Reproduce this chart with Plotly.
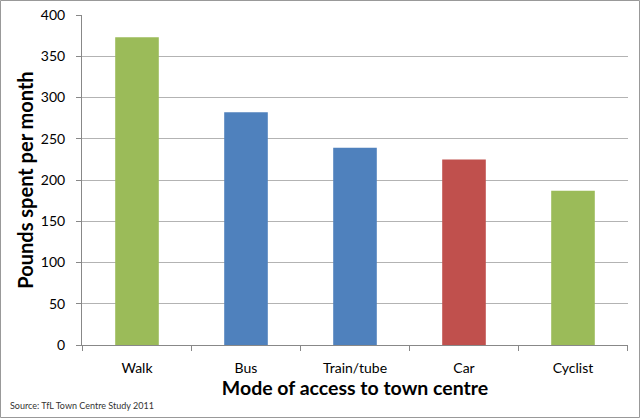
import plotly.graph_objects as go

categories = ["Walk", "Bus", "Train/tube", "Car", "Cyclist"]
values = [373, 282, 239, 225, 187]
bar_colors = ["#9BBB59", "#4F81BD", "#4F81BD", "#C0504D", "#9BBB59"]
y_ticks = [0, 50, 100, 150, 200, 250, 300, 350, 400]

FONT = "Lato, 'Open Sans', Arial, sans-serif"

fig = go.Figure(go.Bar(
    x=categories, y=values,
    marker=dict(color=bar_colors, line=dict(width=0)),
    width=0.4,
))

fig.update_layout(
    width=640, height=418,
    margin=dict(l=82, r=12, t=15, b=73, autoexpand=False),
    paper_bgcolor="white", plot_bgcolor="white",
    showlegend=False,
    font=dict(family=FONT, color="#000000", size=14),
    xaxis=dict(
        showline=True, linecolor="#888888", linewidth=1,
        ticks="", tickfont=dict(size=14), automargin=False,
        ticklabelstandoff=10,
        title=dict(text="<b>Mode of access to town centre</b>", font=dict(size=19.5), standoff=4),
        showgrid=False,
    ),
    yaxis=dict(
        range=[0, 400], tickvals=y_ticks,
        showline=True, linecolor="#888888", linewidth=1,
        ticks="outside", ticklen=5, tickcolor="#888888",
        gridcolor="#B3B3B3", gridwidth=1, automargin=False,
        tickfont=dict(size=14), ticklabelstandoff=8,
        title=dict(text="<b>Pounds spent per month</b>", font=dict(size=20), standoff=1),
        zeroline=False,
    ),
    shapes=[
        dict(type="rect", xref="paper", yref="paper", x0=-81.5/546, x1=1+11.5/546,
             y0=-72.5/330, y1=1+14.5/330, line=dict(color="#999999", width=1)),
    ] + [
        dict(type="line", xref="x", yref="paper", x0=i - 0.5, x1=i - 0.5,
             y0=0, y1=-6/330, line=dict(color="#888888", width=1))
        for i in range(len(categories) + 1)
    ],
    annotations=[
        dict(text="Source: TfL Town Centre Study 2011", xref="paper", yref="paper",
             x=-74/546, y=-60/330, xanchor="left", yanchor="middle",
             showarrow=False, font=dict(size=9, color="#333333")),
    ],
)

fig.write_html("out.html", config={"displayModeBar": False},
               post_script="document.body.style.margin='0';")
